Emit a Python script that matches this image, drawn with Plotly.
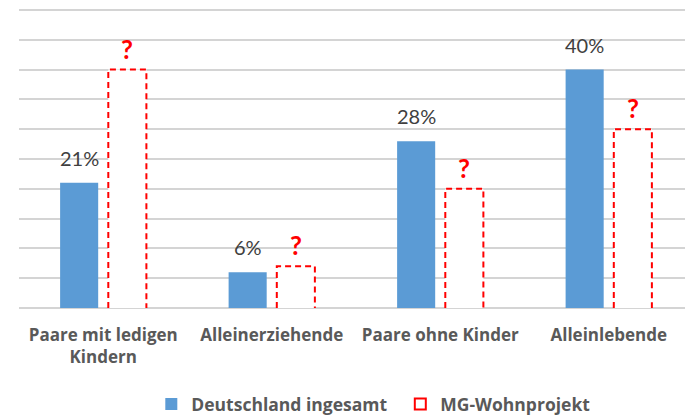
import plotly.graph_objects as go

categories = ["Paare mit ledigen<br>Kindern", "Alleinerziehende", "Paare ohne Kinder", "Alleinlebende"]
deutschland = [21, 6, 28, 40]
deutschland_labels = ["21%", "6%", "28%", "40%"]
mg_wohnprojekt = [40, 7, 20, 30]
mg_labels = ["?", "?", "?", "?"]

BLUE = "#5B9BD5"
RED = "#FF0000"
GRID = "#D4D4D4"
TXT = "#595959"
FONT = "Open Sans"
NUMFONT = "Lato"

off = 0.143
bw = 0.226
xs = list(range(len(categories)))

fig = go.Figure()
fig.add_trace(go.Bar(
    x=[i - off for i in xs], y=deutschland, width=bw,
    marker=dict(color=BLUE, line=dict(width=0)),
    name="Deutschland ingesamt", hoverinfo="skip",
))
fig.add_trace(go.Scatter(
    x=[None], y=[None], mode="markers", name="MG-Wohnprojekt",
    marker=dict(symbol="square-open", color=RED, size=11, line=dict(width=2, color=RED)),
))

shapes = []
for i, v in zip(xs, mg_wohnprojekt):
    x0 = i + off - bw / 2
    x1 = i + off + bw / 2
    shapes.append(dict(
        type="path", xref="x", yref="y",
        path=f"M {x0},0 L {x0},{v} L {x1},{v} L {x1},0",
        line=dict(color=RED, width=2, dash="6px,4px"),
        fillcolor="white", layer="above",
    ))

annotations = []
for i, v, t in zip(xs, deutschland, deutschland_labels):
    annotations.append(dict(x=i - off, y=v, text=t, showarrow=False, yanchor="bottom",
                            yshift=11, font=dict(family=NUMFONT, size=20, color="#404040")))
for i, v, t in zip(xs, mg_wohnprojekt, mg_labels):
    annotations.append(dict(x=i + off, y=v, text=t, showarrow=False, yanchor="bottom",
                            yshift=3, font=dict(family=NUMFONT, size=26, color=RED, weight="bold")))

fig.update_layout(
    width=693, height=417,
    margin=dict(l=11, r=0, t=0, b=117, autoexpand=False),
    paper_bgcolor="white", plot_bgcolor="white",
    showlegend=True,
    legend=dict(orientation="h", x=0.194, xanchor="left", yref="container", y=0.05, yanchor="middle",
                font=dict(family=FONT, size=17.5, color=TXT, weight="bold"),
                itemwidth=30, entrywidth=204, traceorder="normal"),
    shapes=shapes, annotations=annotations,
    xaxis=dict(range=[-0.5, 3.5475], tickvals=xs, ticktext=categories, automargin=False,
               showgrid=False, zeroline=False, showline=False, ticks="",
               tickfont=dict(family=FONT, size=17, color=TXT, weight="bold"),
               ticklabelstandoff=15),
    yaxis=dict(range=[0, 50.34], dtick=5, tick0=0, showgrid=True, gridcolor=GRID, gridwidth=1.5,
               zeroline=True, zerolinecolor=GRID, zerolinewidth=1.5, automargin=False,
               showticklabels=False, ticks="", showline=False),
)

fig.write_html("out.html")
